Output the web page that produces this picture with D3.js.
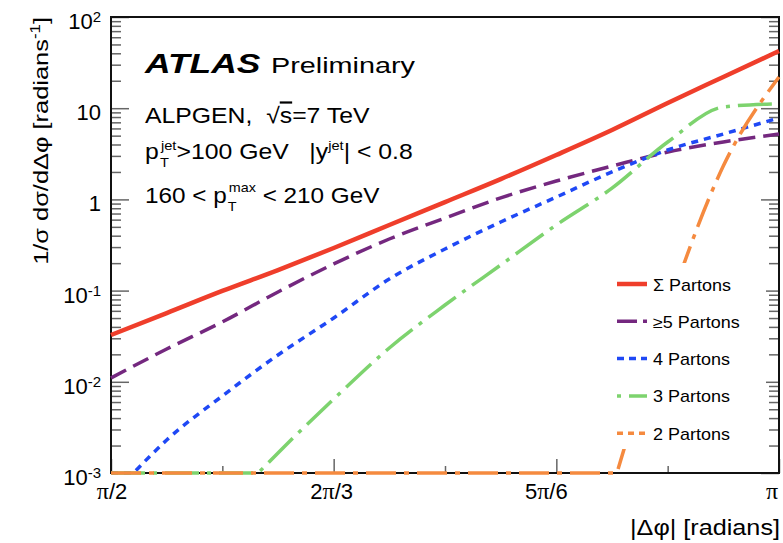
<!DOCTYPE html>
<html>
<head>
<meta charset="utf-8">
<script src="https://cdn.jsdelivr.net/npm/d3@7"></script>
<style>
  body { margin: 0; background: #fff; }
  svg { display: block; }
  text { font-family: "Liberation Sans", Arial, Helvetica, sans-serif; fill: #000; white-space: pre; }
</style>
</head>
<body>
<svg id="vis" width="783" height="543"></svg>
<script>
// |dphi| sample points, in units of pi
const dphiOverPi = [0.5, 0.5417, 0.5833, 0.625, 0.6667, 0.7083, 0.75, 0.7917, 0.8333, 0.875, 0.9167, 0.9583, 1.0];

// 1/sigma dsigma/ddphi per parton multiplicity (ALPGEN)
const sumPartons   = [0.0326, 0.0567, 0.0991, 0.168, 0.293, 0.524, 0.935, 1.67, 3.07, 5.77, 11.4, 22.0, 42.4];
const fivePlus     = [0.0110, 0.0229, 0.0453, 0.0967, 0.196, 0.368, 0.625, 1.04, 1.59, 2.32, 3.31, 4.26, 5.21];
const fourPartons  = [0.00057, 0.0023, 0.00698, 0.0197, 0.0501, 0.134, 0.286, 0.565, 1.06, 2.0, 3.48, 5.21, 7.81];
const threePartons = [0, 0, 0.0004, 0.00166, 0.00647, 0.0235, 0.0695, 0.191, 0.524, 1.33, 4.26, 10.3, 11.2];
const twoPartons   = [0, 0, 0, 0, 0, 0, 0, 0, 0, 0.00067, 0.0612, 2.32, 22.0];

const seriesNames = ["Σ Partons", "≥5 Partons", "4 Partons", "3 Partons", "2 Partons"];

const yTicks = [1e-3, 1e-2, 1e-1, 1, 10, 100];
const yTickLabels = [["10", "-3"], ["10", "-2"], ["10", "-1"], ["1", ""], ["10", ""], ["10", "2"]];
const xTicks = [1/2, 2/3, 5/6, 1];
const xMinorTicks = [7/12, 3/4, 11/12];
const xTickLabels = [["", "π", "/2"], ["2", "π", "/3"], ["5", "π", "/6"], ["", "π", ""]];

const L = 111, R = 779, T = 17, B = 473;
const floor = 1e-3;
const NB = "\u00a0";

const svg = d3.select("#vis");
const x = d3.scaleLinear().domain([Math.PI / 2, Math.PI]).range([L, R]);
const y = d3.scaleLog().domain([floor, 100]).range([B, T]);

// stretch a text horizontally to a measured width
const fit = (sel, w) => {
    const bw = sel.node().getBBox().width;
    sel.attr("transform", `scale(${w / bw},1)`);
};

// ---- frame + ticks
const tickCol = "#666";
const minorY = [];
for (let e = -3; e < 2; e++) for (let k = 2; k < 10; k++) minorY.push(k * Math.pow(10, e));

const drawAxis = (axis, tr) => {
    const g = svg.append("g").attr("transform", tr).call(axis);
    g.select(".domain").remove();
    g.selectAll("line").attr("stroke", tickCol).attr("stroke-width", 1.5);
    g.selectAll("text").remove();
};
drawAxis(d3.axisRight(y).tickValues(yTicks).tickSize(18), `translate(${L},0)`);
drawAxis(d3.axisRight(y).tickValues(minorY).tickSize(10), `translate(${L},0)`);
drawAxis(d3.axisLeft(y).tickValues(yTicks).tickSize(18), `translate(${R},0)`);
drawAxis(d3.axisLeft(y).tickValues(minorY).tickSize(10), `translate(${R},0)`);
drawAxis(d3.axisTop(x).tickValues(xTicks.map(v => v * Math.PI)).tickSize(14), `translate(0,${B})`);
drawAxis(d3.axisTop(x).tickValues(xMinorTicks.map(v => v * Math.PI)).tickSize(7), `translate(0,${B})`);

svg.append("rect").attr("x", L).attr("y", T).attr("width", R - L).attr("height", B - T)
    .attr("fill", "none").attr("stroke", "#111").attr("stroke-width", 2);

// y tick labels
yTicks.forEach((v, i) => {
    const t = svg.append("text").attr("x", 101).attr("y", y(v) + 12)
        .attr("text-anchor", "end").attr("font-size", 22);
    t.append("tspan").text(yTickLabels[i][0]);
    if (yTickLabels[i][1]) t.append("tspan").attr("font-size", 15).attr("dy", -7).text(yTickLabels[i][1]);
});

// x tick labels (pi set in a serif face like the original)
const xNudge = [1, -2, -10, -7];
xTicks.forEach((v, i) => {
    const t = svg.append("text").attr("x", x(v * Math.PI) + xNudge[i]).attr("y", 499)
        .attr("text-anchor", "middle").attr("font-size", 22);
    const [a, p, b] = xTickLabels[i];
    if (a) t.append("tspan").text(a);
    t.append("tspan").attr("font-family", "'Liberation Serif', serif").attr("font-size", 24).text(p);
    if (b) t.append("tspan").text(b);
});

// axis titles
const xt = svg.append("g").attr("transform", `translate(${R + 1},535)`)
    .append("text").attr("text-anchor", "end").attr("font-size", 22).text("|Δφ| [radians]");
fit(xt, 150);

const yt = svg.append("g").attr("transform", `translate(48,${T}) rotate(-90)`)
    .append("text").attr("text-anchor", "end").attr("font-size", 21);
yt.append("tspan").text("1/σ dσ/dΔφ [radians");
yt.append("tspan").attr("font-size", 14).attr("dy", -8).text("-1");
yt.append("tspan").attr("dy", 8).text("]");
fit(yt, 248);

// ---- curves
const styles = [
    { color: "#ef3e2b", width: 4.5, dash: null, legDash: null, legOff: 0 },
    { color: "#74287f", width: 3.5, dash: "17,8", legDash: "20,6", legOff: 0 },
    { color: "#1f48f5", width: 3.5, dash: "7,6", legDash: "7,5", legOff: 0 },
    { color: "#7dd36e", width: 3.5, dash: "34,8,4,8", legDash: "34,8,4,8", legOff: 42 },
    { color: "#f58a3f", width: 3.5, dash: "30,8,5,8", legDash: "6,5", legOff: 0 }
];
const series = [sumPartons, fivePlus, fourPartons, threePartons, twoPartons];

// values under the axis minimum are drawn on the axis (ROOT style)
const toPoints = vals => {
    const pts = [];
    vals.forEach((v, i) => {
        if (i > 0) {
            const v0 = vals[i - 1];
            if (v0 > 0 && v > 0 && (v0 > floor) !== (v > floor)) {
                const f = (Math.log10(floor) - Math.log10(v0)) / (Math.log10(v) - Math.log10(v0));
                const xc = dphiOverPi[i - 1] + f * (dphiOverPi[i] - dphiOverPi[i - 1]);
                pts.push([xc * Math.PI, floor]);
            }
        }
        pts.push([dphiOverPi[i] * Math.PI, Math.max(v, floor)]);
    });
    return pts;
};

svg.append("clipPath").attr("id", "clip").append("rect")
    .attr("x", L - 2).attr("y", T).attr("width", R - L + 4).attr("height", B - T + 4);

const flatLine = d3.line().x(d => x(d[0])).y(d => y(d[1]));
const smoothLine = d3.line().x(d => x(d[0])).y(d => y(d[1])).curve(d3.curveMonotoneX);

// flat run along the axis, then a smooth rise from the crossing point
const pathFor = vals => {
    const pts = toPoints(vals);
    const k = pts.findIndex(p => p[1] > floor);
    if (k <= 1) return smoothLine(pts);
    return flatLine(pts.slice(0, k)) + smoothLine(pts.slice(k - 1)).replace(/^M/, "L");
};

const curves = svg.append("g").attr("clip-path", "url(#clip)");
series.forEach((s, i) => {
    curves.append("path").attr("d", pathFor(s))
        .attr("fill", "none")
        .attr("stroke", styles[i].color)
        .attr("stroke-width", styles[i].width)
        .attr("stroke-dasharray", styles[i].dash);
});

// ---- legend
svg.append("rect").attr("x", 608).attr("y", 263).attr("width", 158).attr("height", 186).attr("fill", "#fff");
const leg = svg.append("g");
const probe = leg.append("text").attr("font-size", 16).text("4 Partons");
const legK = 77 / probe.node().getBBox().width;
probe.remove();
seriesNames.forEach((name, i) => {
    const ly = 284 + i * 37.3;
    leg.append("line").attr("x1", 617).attr("x2", 647).attr("y1", ly).attr("y2", ly)
        .attr("stroke", styles[i].color).attr("stroke-width", styles[i].width)
        .attr("stroke-dasharray", styles[i].legDash).attr("stroke-dashoffset", styles[i].legOff);
    leg.append("g").attr("transform", `translate(653,${ly + 6.5})`)
        .append("text").attr("font-size", 16).attr("transform", `scale(${legK},1)`).text(name);
});

// ---- labels
const lab = svg.append("g");
const atlas = lab.append("g").attr("transform", "translate(145,73)")
    .append("text").attr("font-size", 28).attr("font-weight", "bold").attr("font-style", "italic").text("ATLAS");
fit(atlas, 117);
const prel = lab.append("g").attr("transform", "translate(271,73)")
    .append("text").attr("font-size", 22).text("Preliminary");
fit(prel, 144);

const l1 = lab.append("g").attr("transform", "translate(145,123)").append("text").attr("font-size", 22);
l1.append("tspan").text("ALPGEN," + NB + NB + "√");
l1.append("tspan").attr("text-decoration", "overline").text("s");
l1.append("tspan").text("=7 TeV");
fit(l1, 225);

const l2 = lab.append("g").attr("transform", "translate(145,159)").append("text").attr("font-size", 22);
l2.append("tspan").text("p");
l2.append("tspan").attr("font-size", 13).attr("dy", 8).attr("dx", 1).text("T");
l2.append("tspan").attr("font-size", 13).attr("dy", -17).attr("dx", -7).text("jet");
l2.append("tspan").attr("dy", 9).text(">100 GeV" + NB + NB + NB + "|y");
l2.append("tspan").attr("font-size", 13).attr("dy", -9).text("jet");
l2.append("tspan").attr("dy", 9).text("| < 0.8");
fit(l2, 268);

const l3 = lab.append("g").attr("transform", "translate(145,203)").append("text").attr("font-size", 22);
l3.append("tspan").text("160 < p");
l3.append("tspan").attr("font-size", 13).attr("dy", 8).attr("dx", 1).text("T");
l3.append("tspan").attr("font-size", 13).attr("dy", -19).attr("dx", -7).text("max");
l3.append("tspan").attr("dy", 11).text(" < 210 GeV");
fit(l3, 235);
</script>
</body>
</html>
